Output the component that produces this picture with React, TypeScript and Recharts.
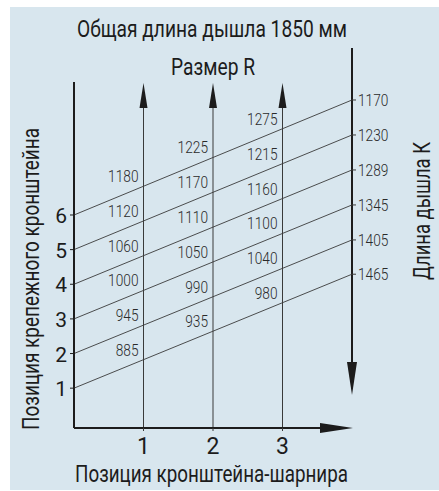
import React from "react";
import {
  ComposedChart,
  Line,
  Scatter,
  XAxis,
  YAxis,
  ReferenceLine,
} from "recharts";

// ── Data ───────────────────────────────────────────────────────

// bracket positions on the left axis (one diagonal per position)
const bracketPos = [1, 2, 3, 4, 5, 6];
// where each diagonal meets the K scale (in left-axis units)
const kPos = [4.29, 5.28, 6.29, 7.3, 8.31, 9.32];
// drawbar length K read on the right scale
const kValues = ["1465", "1405", "1345", "1289", "1230", "1170"];
// hinge bracket positions on the bottom axis
const hingePos = [1, 2, 3];
// size R at hinge 1, 2, 3 for each bracket position 1..6
const rAt1 = ["885", "945", "1000", "1060", "1120", "1180"];
const rAt2 = ["935", "990", "1050", "1110", "1170", "1225"];
const rAt3 = ["980", "1040", "1100", "1160", "1215", "1275"];

// ── Layout ────────────────────────────────────────────────────

const W = 429;
const H = 483;
const X_MAX = 4;
const Y_MIN = -0.15;
const Y_MAX = 10.85;
const LEFT_TOP = 9.84;
const UP_TIP = 9.81;
const UP_BASE = 9.09;
const RIGHT_TOP = 10.82;
const RIGHT_TIP = 0.8;
const BG = "#d8e6ee";
const FONT = "Roboto, 'Liberation Sans', sans-serif";
const INK = "#1c1c1c";
const THIN = "#3a3a3a";
const DIGIT_W = 7.6;

const rCols = [rAt1, rAt2, rAt3];
const valueLabels = rCols.flatMap((col, c) =>
  col.map((label, i) => {
    const x = hingePos[c];
    const y = bracketPos[i] + ((kPos[i] - bracketPos[i]) * x) / X_MAX;
    return { x, y, label };
  })
);
const kLabels = kValues.map((label, i) => ({ x: X_MAX, y: kPos[i], label }));

// ── Shapes ────────────────────────────────────────────────────

function UpArrow(props: any) {
  const { cx, cy } = props;
  return <polygon points={`${cx},${cy} ${cx - 4},${cy + 25} ${cx + 4},${cy + 25}`} fill={INK} />;
}

function DownArrow(props: any) {
  const { cx, cy } = props;
  return <polygon points={`${cx},${cy} ${cx - 5},${cy - 33} ${cx + 5},${cy - 33}`} fill={INK} />;
}

function RightArrow(props: any) {
  const { cx, cy } = props;
  return <polygon points={`${cx + 1},${cy} ${cx - 32},${cy - 5} ${cx - 32},${cy + 5}`} fill={INK} />;
}

function ValueText(props: any) {
  const { cx, cy, payload } = props;
  return (
    <text
      x={cx - 5}
      y={cy - 4}
      textAnchor="end"
      fontSize={16.5}
      fontWeight={300}
      fill="#2a2a2a"
      fontFamily={FONT}
      textLength={payload.label.length * DIGIT_W}
      lengthAdjust="spacingAndGlyphs"
    >
      {payload.label}
    </text>
  );
}

function KText(props: any) {
  const { cx, cy, payload } = props;
  return (
    <g>
      <line x1={cx} y1={cy} x2={cx + 4} y2={cy} stroke={THIN} strokeWidth={1} />
      <text
        x={cx + 6}
        y={cy + 6}
        fontSize={16.5}
        fontWeight={300}
        fill="#2a2a2a"
        fontFamily={FONT}
        textLength={payload.label.length * DIGIT_W}
        lengthAdjust="spacingAndGlyphs"
      >
        {payload.label}
      </text>
    </g>
  );
}

function YTick(props: any) {
  const { x, y, payload } = props;
  return (
    <g>
      <line x1={x + 3} y1={y} x2={x + 8} y2={y} stroke={INK} strokeWidth={1} />
      <text x={x} y={y + 8} textAnchor="end" fontSize={21} fill={INK} fontFamily={FONT}>
        {payload.value}
      </text>
    </g>
  );
}

function XTick(props: any) {
  const { x, y, payload } = props;
  return (
    <text x={x} y={y + 17} textAnchor="middle" fontSize={23} fill={INK} fontFamily={FONT}>
      {payload.value}
    </text>
  );
}

// ── App ───────────────────────────────────────────────────────

const titleStyle = { fontFamily: FONT, fill: INK, lengthAdjust: "spacingAndGlyphs" } as const;

export default function App() {
  return (
    <div style={{ position: "absolute", left: 0, top: 0, width: 439, height: 491 }}>
      <div style={{ position: "absolute", left: 10, top: 7, width: W, height: H, background: BG }}>
        <ComposedChart width={W} height={H} margin={{ top: 40, right: 87, bottom: 0, left: 0 }}>
          <XAxis
            type="number"
            dataKey="x"
            domain={[0, X_MAX]}
            ticks={hingePos}
            height={62}
            axisLine={false}
            tickLine={{ stroke: THIN }}
            tickSize={3}
            tickMargin={6}
            tick={<XTick />}
          />
          <YAxis
            type="number"
            dataKey="y"
            domain={[Y_MIN, Y_MAX]}
            ticks={bracketPos}
            width={64}
            axisLine={false}
            tickLine={false}
            tickSize={6}
            tickMargin={1}
            tick={<YTick />}
          />

          {/* hinge verticals */}
          {hingePos.map((x) => (
            <ReferenceLine key={"v" + x} segment={[{ x, y: Y_MIN }, { x, y: UP_BASE }]} stroke={THIN} strokeWidth={1} />
          ))}

          {/* frame axes */}
          <ReferenceLine segment={[{ x: 0, y: Y_MIN }, { x: 0, y: LEFT_TOP }]} stroke={INK} strokeWidth={2} />
          <ReferenceLine segment={[{ x: 0, y: Y_MIN }, { x: 3.6, y: Y_MIN }]} stroke={INK} strokeWidth={2} />
          <ReferenceLine segment={[{ x: X_MAX, y: RIGHT_TOP }, { x: X_MAX, y: 1.7 }]} stroke={INK} strokeWidth={2} />

          {/* bracket diagonals */}
          {bracketPos.map((p, i) => (
            <Line
              key={"d" + p}
              data={[{ x: 0, y: p }, { x: X_MAX, y: kPos[i] }]}
              dataKey="y"
              stroke={THIN}
              strokeWidth={0.9}
              dot={false}
              isAnimationActive={false}
            />
          ))}

          <Scatter data={hingePos.map((x) => ({ x, y: UP_TIP }))} shape={UpArrow} isAnimationActive={false} />
          <Scatter data={[{ x: X_MAX, y: RIGHT_TIP }]} shape={DownArrow} isAnimationActive={false} />
          <Scatter data={[{ x: X_MAX, y: Y_MIN }]} shape={RightArrow} isAnimationActive={false} />
          <Scatter data={valueLabels} shape={ValueText} isAnimationActive={false} />
          <Scatter data={kLabels} shape={KText} isAnimationActive={false} />
        </ComposedChart>
      </div>

      {/* titles, in page coordinates */}
      <svg width={439} height={491} style={{ position: "absolute", left: 0, top: 0, pointerEvents: "none" }}>
        <text x={77} y={36.5} fontSize={23} textLength={270} {...titleStyle}>
          Общая длина дышла 1850 мм
        </text>
        <text x={171} y={75} fontSize={23} textLength={84} {...titleStyle}>
          Размер R
        </text>
        <text x={75} y={482} fontSize={23} textLength={273} {...titleStyle}>
          Позиция кронштейна-шарнира
        </text>
        <text x={39} y={430} fontSize={23} textLength={302} transform="rotate(-90 39 430)" {...titleStyle}>
          Позиция крепежного кронштейна
        </text>
        <text x={430} y={280} fontSize={23} textLength={138} transform="rotate(-90 430 280)" {...titleStyle}>
          Длина дышла К
        </text>
      </svg>
    </div>
  );
}
